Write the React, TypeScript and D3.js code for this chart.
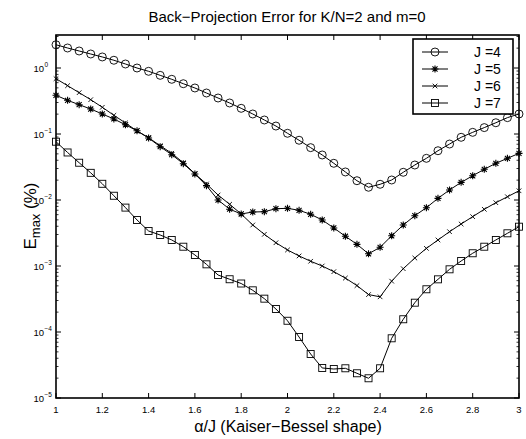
import React from 'react';
import * as d3 from 'd3';

const xs = d3.range(41).map((i) => 1 + i * 0.05);

const j4 = [2.25, 2.01, 1.81, 1.63, 1.47, 1.31, 1.15, 1.0, 0.891, 0.774, 0.674, 0.578, 0.498, 0.418, 0.351, 0.295, 0.245, 0.201, 0.163, 0.132, 0.1025, 0.0804, 0.0621, 0.0481, 0.036, 0.0266, 0.0196, 0.0156, 0.0173, 0.0201, 0.0263, 0.0339, 0.0428, 0.0558, 0.0705, 0.0891, 0.106, 0.125, 0.148, 0.177, 0.201];
const j5 = [0.386, 0.324, 0.278, 0.239, 0.201, 0.169, 0.138, 0.112, 0.0869, 0.0642, 0.0486, 0.0355, 0.0248, 0.0165, 0.01, 0.00726, 0.00614, 0.00658, 0.00665, 0.00738, 0.00748, 0.00698, 0.00607, 0.00498, 0.00377, 0.00282, 0.00213, 0.00153, 0.00192, 0.00287, 0.00418, 0.00578, 0.00764, 0.0106, 0.0142, 0.0185, 0.0233, 0.0292, 0.036, 0.0428, 0.0509];
const j6 = [0.689, 0.54, 0.423, 0.331, 0.254, 0.192, 0.147, 0.111, 0.0879, 0.0665, 0.051, 0.0367, 0.025, 0.0175, 0.0119, 0.00861, 0.00614, 0.00418, 0.00302, 0.00225, 0.00175, 0.00142, 0.00118, 0.001, 0.00082, 0.000656, 0.000505, 0.000369, 0.000341, 0.000589, 0.00091, 0.00132, 0.00185, 0.00248, 0.00331, 0.00433, 0.00559, 0.00723, 0.0091, 0.0112, 0.0138];
const j7 = [0.0764, 0.0525, 0.0367, 0.0258, 0.0176, 0.0116, 0.00767, 0.00498, 0.00339, 0.00295, 0.00248, 0.00196, 0.00147, 0.00106, 0.00073, 0.00063, 0.000543, 0.000428, 0.00032, 0.000223, 0.000148, 0.0000839, 0.0000464, 0.0000285, 0.0000275, 0.0000282, 0.0000237, 0.0000199, 0.0000282, 0.0000803, 0.000156, 0.000278, 0.000444, 0.000628, 0.000891, 0.00119, 0.00156, 0.00196, 0.00248, 0.00313, 0.00394];

const seriesNames = ['J =4', 'J =5', 'J =6', 'J =7'];
const markerKinds = ['circle', 'star', 'x', 'square'];
const xTicks = [1, 1.2, 1.4, 1.6, 1.8, 2, 2.2, 2.4, 2.6, 2.8, 3];
const yDecades = [0, -1, -2, -3, -4, -5];

const W = 526;
const H = 439;
const left = 56;
const right = 519;
const top = 35;
const bottom = 398;
const font = 'Liberation Sans, Arial, Helvetica, sans-serif';

const Marker = ({ kind, x, y }) => {
  if (kind === 'circle') return <circle cx={x} cy={y} r={4} fill="none" stroke="#000" strokeWidth={0.9} />;
  if (kind === 'square') return <rect x={x - 3.5} y={y - 3.5} width={7} height={7} fill="none" stroke="#000" strokeWidth={0.9} />;
  if (kind === 'x') {
    const s = 2.3;
    return <path d={`M${x - s},${y - s}L${x + s},${y + s}M${x - s},${y + s}L${x + s},${y - s}`} stroke="#000" strokeWidth={0.9} />;
  }
  const s = 3.5;
  const d = s * 0.72;
  return (
    <path
      d={`M${x - s},${y}L${x + s},${y}M${x},${y - s}L${x},${y + s}M${x - d},${y - d}L${x + d},${y + d}M${x - d},${y + d}L${x + d},${y - d}`}
      stroke="#000"
      strokeWidth={1.1}
    />
  );
};

export default function App() {
  const xScale = d3.scaleLinear().domain([1, 3]).range([left, right]);
  const yScale = d3.scaleLog().domain([1e-5, Math.pow(10, 0.5)]).range([bottom, top]);
  const line = d3
    .line<number>()
    .x((d, i) => xScale(xs[i]))
    .y((d) => yScale(d));

  const allSeries = [j4, j5, j6, j7];

  // minor ticks on log axis
  const minor: number[] = [];
  for (let e = -5; e <= 0; e++) {
    for (let k = 2; k <= 9; k++) {
      const v = k * Math.pow(10, e);
      if (v <= Math.pow(10, 0.5)) minor.push(v);
    }
  }

  const legX = 413;
  const legY = 39;
  const legW = 100;
  const legH = 75;

  return (
    <svg width={W} height={H} style={{ position: 'absolute', left: 0, top: 0 }} fontFamily={font}>
      <rect width={W} height={H} fill="#fff" />
      <text x={287} y={22} textAnchor="middle" fontSize={15}>
        Back−Projection Error for K/N=2 and m=0
      </text>

      {/* x ticks */}
      {xTicks.map((t) => (
        <g key={t}>
          <line x1={xScale(t)} x2={xScale(t)} y1={bottom} y2={bottom - 5} stroke="#000" />
          <line x1={xScale(t)} x2={xScale(t)} y1={top} y2={top + 5} stroke="#000" />
          <text x={xScale(t)} y={413} textAnchor="middle" fontSize={9.5}>
            {t}
          </text>
        </g>
      ))}

      {/* y ticks */}
      {yDecades.map((e) => {
        const y = yScale(Math.pow(10, e));
        return (
          <g key={e}>
            <line x1={left} x2={left + 5} y1={y} y2={y} stroke="#000" />
            <line x1={right} x2={right - 5} y1={y} y2={y} stroke="#000" />
            <text x={44} y={y + 4} textAnchor="end" fontSize={9.5}>
              10
            </text>
            <text x={44.5} y={y - 1} fontSize={6.5}>
              {e === 0 ? '0' : '−' + -e}
            </text>
          </g>
        );
      })}
      {minor.map((v, i) => {
        const y = yScale(v);
        return (
          <g key={i}>
            <line x1={left} x2={left + 2.5} y1={y} y2={y} stroke="#000" strokeWidth={0.8} />
            <line x1={right} x2={right - 2.5} y1={y} y2={y} stroke="#000" strokeWidth={0.8} />
          </g>
        );
      })}

      {/* series */}
      {allSeries.map((s, si) => (
        <g key={si}>
          <path d={line(s) || ''} fill="none" stroke="#000" strokeWidth={1} />
          {s.map((v, i) => (
            <Marker key={i} kind={markerKinds[si]} x={xScale(xs[i])} y={yScale(v)} />
          ))}
        </g>
      ))}

      {/* axes box */}
      <rect x={left} y={top} width={right - left} height={bottom - top} fill="none" stroke="#000" strokeWidth={1.6} />

      {/* legend */}
      <rect x={legX} y={legY} width={legW} height={legH} fill="#fff" stroke="#000" strokeWidth={1.6} />
      {seriesNames.map((n, i) => {
        const y = legY + 13 + i * 17;
        return (
          <g key={n}>
            <line x1={legX + 9} x2={legX + 35} y1={y} y2={y} stroke="#000" />
            <Marker kind={markerKinds[i]} x={legX + 22} y={y} />
            <text x={legX + 61} y={y + 5} fontSize={14}>
              {n}
            </text>
          </g>
        );
      })}

      {/* axis labels */}
      <text x={288} y={432} textAnchor="middle" fontSize={16}>
        α/J (Kaiser−Bessel shape)
      </text>
      <g transform="translate(36,216) rotate(-90)">
        <text textAnchor="middle" fontSize={17}>
          E<tspan fontSize={13} dy={4}>max</tspan>
          <tspan fontSize={17} dy={-4}> (%)</tspan>
        </text>
      </g>
    </svg>
  );
}
